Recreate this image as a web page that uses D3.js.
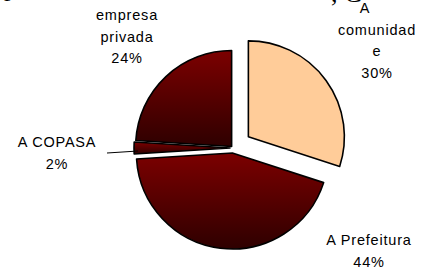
<!DOCTYPE html>
<html><head><meta charset="utf-8">
<script src="https://cdn.jsdelivr.net/npm/d3@7"></script>
<style>html,body{margin:0;padding:0;background:#fff;overflow:hidden}</style>
</head><body>
<script>
const categories = ["A comunidade", "A Prefeitura", "A COPASA", "empresa privada"];
const values = [30, 44, 2, 24];
const labelLines = [["A","comunidad","e","30%"],["A Prefeitura","44%"],["A COPASA","2%"],["empresa","privada","24%"]];

const W = 422, H = 267;
const svg = d3.select("body").append("svg").attr("width", W).attr("height", H);

const defs = svg.append("defs");
const grad = defs.append("linearGradient").attr("id","dr").attr("x1",0).attr("y1",0).attr("x2",0).attr("y2",1);
grad.append("stop").attr("offset","0%").attr("stop-color","#7c0000");
grad.append("stop").attr("offset","100%").attr("stop-color","#2e0000");

// cut-off title fragments at very top
svg.append("text").attr("x",4).attr("y",-4.2).attr("font-family","Liberation Serif, serif").attr("font-size",26).text("p");
svg.append("text").attr("x",331).attr("y",2).attr("font-family","Liberation Serif, serif").attr("font-size",26).text(", G");

const cx = 233, cy = 148, r = 96;
const explode = [19, 5, 3, 2];
const fills = ["#ffcc99", "url(#dr)", "url(#dr)", "url(#dr)"];

const pie = d3.pie().sort(null).value(d => d)(values);
const arc = d3.arc().innerRadius(0).outerRadius(r);

const g = svg.append("g").attr("transform", `translate(${cx},${cy})`);
pie.forEach((p, i) => {
  const mid = (p.startAngle + p.endAngle) / 2;
  const dx = Math.sin(mid) * explode[i], dy = -Math.cos(mid) * explode[i];
  g.append("path").attr("d", arc(p)).attr("transform", `translate(${dx},${dy})`)
    .attr("fill", fills[i]).attr("stroke", "#000").attr("stroke-width", 1.6).attr("stroke-linejoin","round");
});

const labelPos = [[377, 13], [369, 245], [57, 147], [127, 20]];
const lh = 21.5;
labelLines.forEach((lines, i) => {
  const t = svg.append("text").attr("text-anchor","middle")
    .attr("font-family","Liberation Sans, Arial, sans-serif").attr("font-size",14.5)
    .attr("letter-spacing", 0.8).attr("fill","#000");
  lines.forEach((s, j) => {
    let x = labelPos[i][0];
    if (i === 0 && j === 0) x = 365;
    t.append("tspan").attr("x", x).attr("y", labelPos[i][1] + j * lh).text(s);
  });
});

// leader line for COPASA
const cp = pie[2];
const cmid = (cp.startAngle + cp.endAngle) / 2;
const ex = cx + Math.sin(cmid) * (r + explode[2]) + 4, ey = cy - Math.cos(cmid) * (r + explode[2]) + 3;
svg.append("line").attr("x1", 107).attr("y1", 153).attr("x2", ex).attr("y2", ey)
  .attr("stroke","#000").attr("stroke-width",1);
</script>
</body></html>
